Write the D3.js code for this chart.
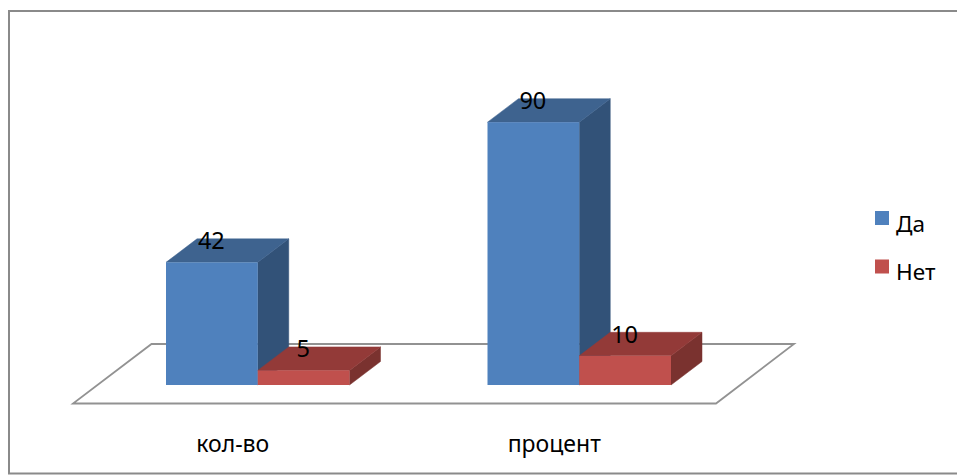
<!DOCTYPE html>
<html>
<head>
<meta charset="utf-8">
<script src="https://cdn.jsdelivr.net/npm/d3@7"></script>
<style>
html, body { margin: 0; padding: 0; background: #fff; }
svg { display: block; }
text { font-family: "Noto Sans", sans-serif; fill: #000; }
</style>
</head>
<body>
<svg width="957" height="475"></svg>
<script>
const categories = ["кол-во", "процент"]
const seriesNames = ["Да", "Нет"]
const yes = [42, 90]
const no = [5, 10]
const seriesValues = [yes, no]

const frontColors = ["#4f81bd", "#c0504d"]
const topColors = ["#3e638f", "#933a38"]
const sideColors = ["#325278", "#7a322f"]

const svg = d3.select("svg")

// chart frame, open on the right
svg.append("path")
    .attr("d", "M957,11 H9 V473.5 H957")
    .attr("fill", "none")
    .attr("stroke", "#8a8a8a")
    .attr("stroke-width", 2)

const depthX = 31
const depthY = -23.5

const x0 = d3.scaleBand().domain(categories).range([97, 740])
const x1 = d3.scaleBand().domain(seriesNames).range([69, 252.5])
const y = d3.scaleLinear().domain([0, 100]).range([385, 93])

const line = d3.line()

// floor
svg.append("path")
    .attr("d", line([[151.5, 344], [794, 344], [716, 403.5], [73, 403.5]]) + "Z")
    .attr("fill", "#fff")
    .attr("stroke", "#929292")
    .attr("stroke-width", 1.8)

const bars = []
categories.forEach((c, i) => {
    seriesNames.forEach((s, j) => {
        bars.push({ category: c, series: s, j: j, value: seriesValues[j][i] })
    })
})

const barGroup = svg.append("g")
    .selectAll("g")
    .data(bars)
    .enter()
    .append("g")

barGroup.each(function (d) {
    const g = d3.select(this)
    const left = x0(d.category) + x1(d.series)
    const right = left + x1.bandwidth()
    const top = y(d.value)
    const base = y(0)

    g.append("path")
        .attr("d", line([[right, base], [right + depthX, base + depthY], [right + depthX, top + depthY], [right, top]]) + "Z")
        .attr("fill", sideColors[d.j])
        .attr("stroke", sideColors[d.j])
        .attr("stroke-width", 0.5)

    g.append("path")
        .attr("d", line([[left, top], [left + depthX, top + depthY], [right + depthX, top + depthY], [right, top]]) + "Z")
        .attr("fill", topColors[d.j])
        .attr("stroke", topColors[d.j])
        .attr("stroke-width", 0.5)

    g.append("rect")
        .attr("x", left)
        .attr("y", top)
        .attr("width", right - left)
        .attr("height", base - top)
        .attr("fill", frontColors[d.j])
})

// value labels go last so that they sit over the bar tops
svg.append("g")
    .selectAll("text")
    .data(bars)
    .enter()
    .append("text")
    .attr("x", d => x0(d.category) + x1(d.series) + x1.bandwidth() / 2 - 0.5)
    .attr("y", d => y(d.value) - 13)
    .attr("text-anchor", "middle")
    .style("font-size", "23.5px")
    .text(d => d.value)

// category labels
svg.append("g")
    .selectAll("text")
    .data(categories)
    .enter()
    .append("text")
    .attr("x", d => x0(d) + x0.bandwidth() / 2 - 25)
    .attr("y", 452)
    .attr("text-anchor", "middle")
    .style("font-size", "23px")
    .text(d => d)

// legend
const legendY = d3.scalePoint().domain(seriesNames).range([211, 259.5])

const legend = svg.append("g")
    .selectAll("g")
    .data(seriesNames)
    .enter()
    .append("g")
    .attr("transform", d => `translate(875,${legendY(d)})`)

legend.append("rect")
    .attr("width", 14)
    .attr("height", 14)
    .attr("fill", (d, i) => frontColors[i])

legend.append("text")
    .attr("x", 21)
    .attr("y", 20.5)
    .style("font-size", "22.5px")
    .text(d => d)
</script>
</body>
</html>
